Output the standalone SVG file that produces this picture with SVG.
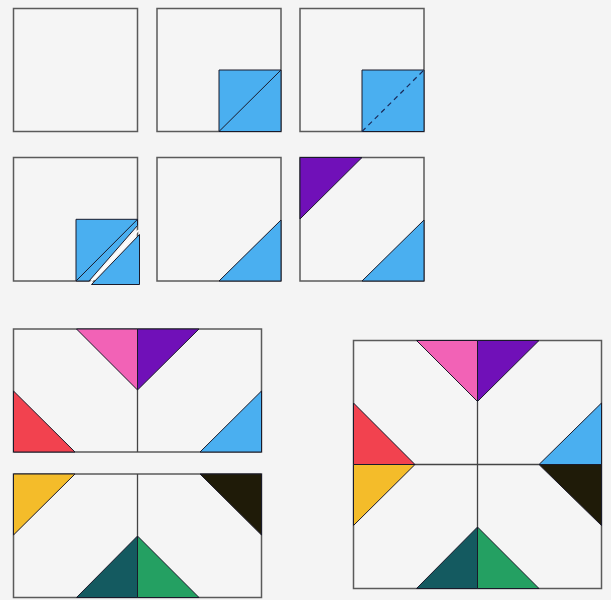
<svg xmlns="http://www.w3.org/2000/svg" width="611" height="600" viewBox="0 0 611 600">
<style>
.bg{fill:#f4f4f4}
.sq{fill:#f5f5f5;stroke:#5a5a5a;stroke-width:1.5}
.ln{stroke:#444;stroke-width:1.3;fill:none}
.t{stroke:#1a1a2a;stroke-width:1;stroke-linejoin:round}
.blue{fill:#4aaff0}.purple{fill:#7010b8}.pink{fill:#f262b6}.red{fill:#f2424f}
.yellow{fill:#f4bc2a}.black{fill:#1f1b08}.teal{fill:#145a60}.green{fill:#24a062}
</style>
<rect class="bg" width="611" height="600"/>
<g id="step1"><rect class="sq" x="13.5" y="8.5" width="124" height="123"/></g>
<g id="step2">
<rect class="sq" x="157" y="8.5" width="124" height="123"/>
<rect class="blue t" x="219" y="70" width="62" height="61.5"/>
<line class="t" x1="219" y1="131.5" x2="281" y2="70"/>
</g>
<g id="step3">
<rect class="sq" x="300" y="8.5" width="124" height="123"/>
<rect class="blue t" x="362" y="70" width="62" height="61.5"/>
<line x1="362" y1="131.5" x2="424" y2="70" stroke="#1a2a5a" stroke-width="1.2" stroke-dasharray="5,4"/>
</g>
<g id="step4">
<rect class="sq" x="13.5" y="157.5" width="124" height="123.5"/>
<polygon class="blue t" points="76,219.3 137.5,219.3 137.5,225.5 89,281 76,281"/>
<line class="t" x1="76" y1="281" x2="137.5" y2="219.3"/>
<polygon class="blue t" points="91.5,284.5 139.5,284.5 139.5,234.5"/>
<line x1="89.8" y1="283.3" x2="138.7" y2="230" stroke="#ffffff" stroke-width="1.6"/>
</g>
<g id="step5">
<rect class="sq" x="157" y="157.5" width="124" height="123.5"/>
<polygon class="blue t" points="219,281 281,281 281,220"/>
</g>
<g id="step6">
<rect class="sq" x="300" y="157.5" width="124" height="123.5"/>
<polygon class="purple t" points="300,157.5 362,157.5 300,219"/>
<polygon class="blue t" points="362,281 424,281 424,220"/>
</g>
<g id="half-top">
<rect class="sq" x="13.5" y="329" width="248" height="123"/>
<line class="ln" x1="137.5" y1="390" x2="137.5" y2="452"/>
<polygon class="pink t" points="76.5,329 137.5,329 137.5,390"/>
<polygon class="purple t" points="137.5,329 199,329 137.5,390"/>
<polygon class="red t" points="13.5,391 13.5,452 75,452"/>
<polygon class="blue t" points="200,452 261.5,452 261.5,391"/>
</g>
<g id="half-bottom">
<rect class="sq" x="13.5" y="474" width="248" height="123.5"/>
<line class="ln" x1="137.5" y1="474" x2="137.5" y2="536"/>
<polygon class="yellow t" points="13.5,474 75,474 13.5,535"/>
<polygon class="black t" points="200,474 261.5,474 261.5,535"/>
<polygon class="teal t" points="76.5,597.5 137.5,536 137.5,597.5"/>
<polygon class="green t" points="137.5,536 137.5,597.5 199,597.5"/>
</g>
<g id="block">
<rect class="sq" x="353.5" y="340.5" width="248" height="248"/>
<line class="ln" x1="477.5" y1="401.5" x2="477.5" y2="527"/>
<line class="ln" x1="415" y1="464.5" x2="539" y2="464.5"/>
<polygon class="pink t" points="416.5,340.5 477.5,340.5 477.5,401.5"/>
<polygon class="purple t" points="477.5,340.5 539,340.5 477.5,401.5"/>
<polygon class="red t" points="353.5,403 353.5,464.5 415,464.5"/>
<polygon class="yellow t" points="353.5,464.5 415,464.5 353.5,525.5"/>
<polygon class="blue t" points="601.5,403 539,464.5 601.5,464.5"/>
<polygon class="black t" points="539,464.5 601.5,464.5 601.5,525.5"/>
<polygon class="teal t" points="416.5,588.5 477.5,527 477.5,588.5"/>
<polygon class="green t" points="477.5,527 477.5,588.5 539,588.5"/>
</g>
</svg>
